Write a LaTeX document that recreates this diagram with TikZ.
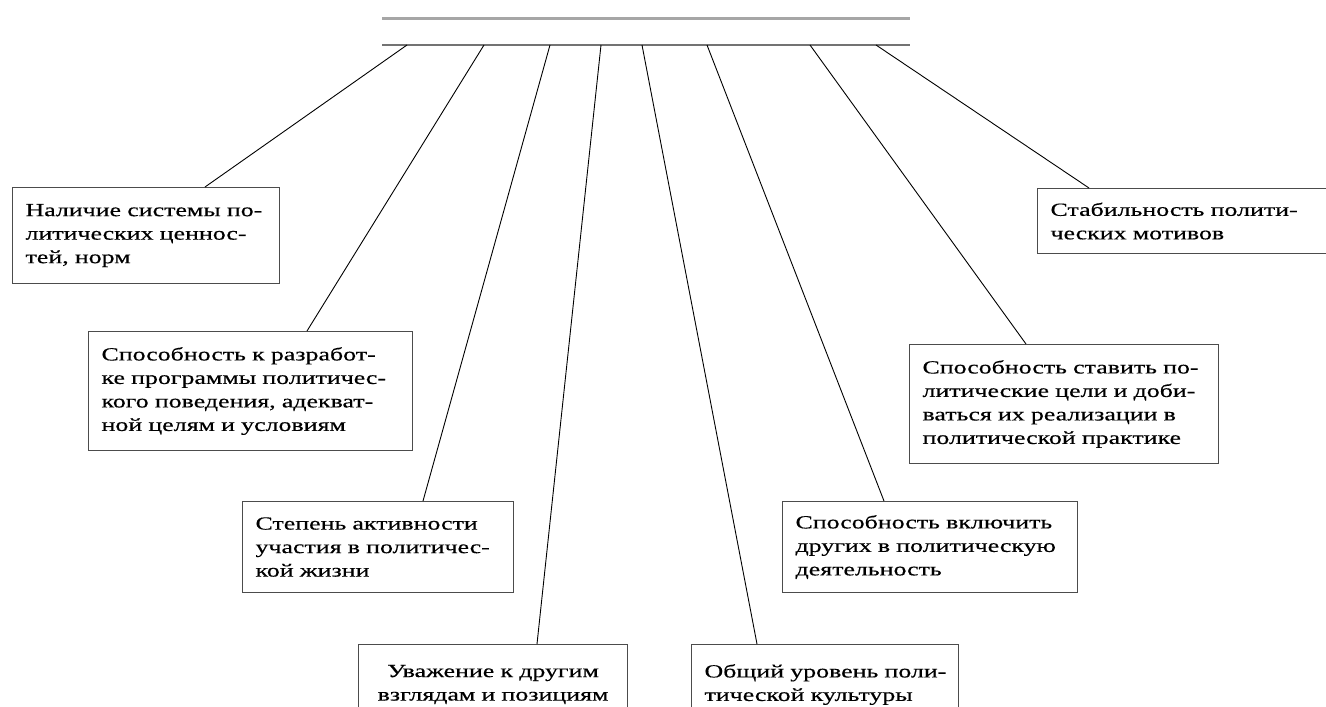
\documentclass[tikz,border=0pt]{standalone}
\usepackage{fontspec}
\setmainfont[FakeStretch=1.4,FakeBold=0.4]{Liberation Serif}

\begin{document}
\begin{tikzpicture}[x=1pt,y=-1pt]
	\tikzstyle{kach}=[draw=black!70, line width=1.1pt, anchor=north west, inner xsep=13pt, inner ysep=4pt, align=left, font=\fontsize{18.5}{23.5}\selectfont]
	\tikzstyle{svyaz}=[black, line width=0.9pt]
	\clip (0,0) rectangle (1326,707);
	\fill[white] (0,0) rectangle (1326,707);
	
	\draw[black!35, line width=3pt] (382,18) -- (910,18);
	\draw[black!55, line width=2pt] (382,45) -- (910,45);
	\foreach \x [count=\i] in {407,484,550,601,642,707,810,876}
		\coordinate (b\i) at (\x,45);
	
	\node[kach, text width=241pt, minimum height=96pt] (nalichie) at (12,187) {Наличие системы по-\\литических ценнос-\\тей, норм};
	\node[kach, text width=298pt, minimum height=119pt] (razrab) at (88,331) {Способность к разработ-\\ке программы политичес-\\кого поведения, адекват-\\ной целям и условиям};
	\node[kach, text width=245pt, minimum height=91pt] (aktiv) at (242,501) {Степень активности\\участия в политичес-\\кой жизни};
	\node[kach, text width=243pt, minimum height=80pt, align=center] (uvazh) at (358,644) {Уважение к другим\\взглядам и позициям};
	\node[kach, text width=241pt, minimum height=80pt] (uroven) at (691,644) {\mbox{Общий уровень поли-}\\тической культуры};
	\node[kach, text width=269pt, minimum height=91pt] (vkluch) at (782,501) {Способность включить\\других в политическую\\деятельность};
	\node[kach, text width=283pt, minimum height=119pt] (celi) at (909,344) {Способность ставить по-\\литические цели и доби-\\ваться их реализации в\\политической практике};
	\node[kach, text width=274pt, minimum height=65pt] (stabil) at (1037,188) {Стабильность полити-\\ческих мотивов};
	
	\draw[svyaz] (b1) -- ([xshift=193pt]nalichie.north west);
	\draw[svyaz] (b2) -- ([xshift=219pt]razrab.north west);
	\draw[svyaz] (b3) -- ([xshift=181pt]aktiv.north west);
	\draw[svyaz] (b4) -- ([xshift=179pt]uvazh.north west);
	\draw[svyaz] (b5) -- ([xshift=66pt]uroven.north west);
	\draw[svyaz] (b6) -- ([xshift=102pt]vkluch.north west);
	\draw[svyaz] (b7) -- ([xshift=117pt]celi.north west);
	\draw[svyaz] (b8) -- ([xshift=52pt]stabil.north west);
\end{tikzpicture}
\end{document}
